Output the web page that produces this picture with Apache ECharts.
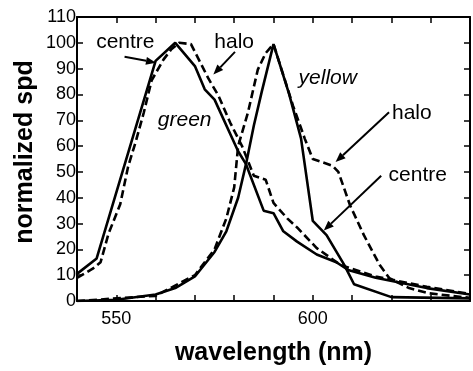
<!DOCTYPE html>
<html><head><meta charset="utf-8">
<script src="https://cdn.jsdelivr.net/npm/echarts@6/dist/echarts.min.js"></script>
<style>html,body{margin:0;padding:0;background:#fff}#c{width:473px;height:371px}</style>
</head><body><div id="c"></div>
<script>
// ---- data ----
const xLabelValues = [550, 600];
const yTicks = [0,10,20,30,40,50,60,70,80,90,100,110];

const greenCentreX = [540,545,560,565,570,572.5,575,581,583,587.5,590,592.5,596,601,606,609,616,629,640];
const greenCentreY = [10.5,16.5,93,100,91,82,78,58,53,35,34,27,23,18,15,12,9,5,2.5];

const greenHaloX = [540,544,546,548,551,553,555,557,559,562,564,566,569,571,573.5,576,579,582,585,588,590,593.5,596,601,607,616,629,640];
const greenHaloY = [9,12.5,15,26,37.5,52,62,73,85.5,93.5,97.5,100,99.5,93.5,86,79.5,69,60,48.5,47,38,32,28.5,20.5,14,9.5,5.5,2.7];

const yellowCentreX = [540,550,560,565,570,575,578,581,583,585,587,590,594,597,600,603.5,608,610.5,620,640];
const yellowCentreY = [0,0.5,2.5,5,9.5,19,27,40,53,68,81,99.5,80,63,31,25.5,14,6.5,1.5,1];

const yellowHaloX = [540,560,570,575,578,580,581,583.5,586,588,590,595,598,600,605,606.5,609.5,613,617,619.5,624.5,629.5,640];
const yellowHaloY = [0,2,10,20,32,44,60,73,89.6,96,99.5,75.5,62.7,55,52.4,50,37,25.5,14,8.8,5,3,1.2];

// annotations: [text, x, y, italic]
const labels = [
  ['centre', 552.3, 100.4, false],
  ['halo', 580, 100.4, false],
  ['green', 567.4, 70, true],
  ['yellow', 603.8, 86.5, true],
  ['halo', 625.2, 72.7, false],
  ['centre', 626.7, 48.8, false]
];
// arrows: [x1,y1,x2(tip),y2(tip)]
const arrows = [
  [552.1, 94.6, 560.1, 92.3],
  [580.2, 96.5, 574.7, 87.7],
  [619.4, 73.1, 605.8, 53.8],
  [617.4, 48.5, 602.8, 27.3]
];

const FONT = '"Liberation Sans", Arial, sans-serif';
const zip = (xs, ys) => xs.map((x, i) => [x, ys[i]]);

const chart = echarts.init(document.getElementById('c'), null, {renderer: 'canvas'});
const lineSeries = (name, xs, ys, dashed) => ({
  name, type: 'line', data: zip(xs, ys), symbol: 'none', smooth: false,
  xAxisIndex: 0, yAxisIndex: 0,
  lineStyle: {color: '#000', width: 2.6, type: dashed ? [8, 4] : 'solid'},
  z: dashed ? 2 : 3
});

const tickStyle = {show: true, inside: true, length: 6, lineStyle: {color: '#000', width: 1.5}};
chart.setOption({
  animation: false,
  backgroundColor: '#fff',
  grid: {left: 77, top: 17, width: 399, height: 286, containLabel: false},
  xAxis: [
    {type: 'value', min: 540, max: 640, interval: 10, position: 'bottom',
     axisLine: {show: true, onZero: false, lineStyle: {color: '#000', width: 2}},
     axisTick: tickStyle, splitLine: {show: false},
     axisLabel: {color: '#000', fontSize: 18, fontFamily: FONT, margin: 9,
       formatter: v => xLabelValues.includes(v) ? String(v) : ''},
     name: 'wavelength (nm)', nameLocation: 'middle', nameGap: 40,
     nameTextStyle: {color: '#000', fontSize: 25, fontWeight: 'bold', fontFamily: FONT}},
    {type: 'value', min: 540, max: 640, interval: 10, position: 'top',
     axisLine: {show: true, onZero: false, lineStyle: {color: '#000', width: 2}},
     axisTick: tickStyle, axisLabel: {show: false}, splitLine: {show: false}}
  ],
  yAxis: [
    {type: 'value', min: 0, max: 110, interval: 10, position: 'left',
     axisLine: {show: true, onZero: false, lineStyle: {color: '#000', width: 2}},
     axisTick: tickStyle, splitLine: {show: false},
     axisLabel: {color: '#000', fontSize: 18, fontFamily: FONT, margin: 1,
       formatter: v => yTicks.includes(v) ? String(v) : ''}},
    {type: 'value', min: 0, max: 110, interval: 10, position: 'right',
     axisLine: {show: true, onZero: false, lineStyle: {color: '#000', width: 2}},
     axisTick: tickStyle, axisLabel: {show: false}, splitLine: {show: false}}
  ],
  series: [
    lineSeries('green halo', greenHaloX, greenHaloY, true),
    lineSeries('green centre', greenCentreX, greenCentreY, false),
    lineSeries('yellow halo', yellowHaloX, yellowHaloY, true),
    lineSeries('yellow centre', yellowCentreX, yellowCentreY, false)
  ]
});

const px = (x, y) => chart.convertToPixel({xAxisIndex: 0, yAxisIndex: 0}, [x, y]);
const graphics = [];
labels.forEach(([t, x, y, it]) => {
  const p = px(x, y);
  graphics.push({type: 'text', x: p[0], y: p[1], z: 10,
    style: {text: t, fill: '#000', font: (it ? 'italic ' : '') + '21px ' + FONT,
      textAlign: 'center', textVerticalAlign: 'middle'}});
});
arrows.forEach(([x1, y1, x2, y2]) => {
  const a = px(x1, y1), b = px(x2, y2);
  const dx = b[0] - a[0], dy = b[1] - a[1], L = Math.hypot(dx, dy);
  const ux = dx / L, uy = dy / L, hl = 10, hw = 4;
  const bx = b[0] - ux * hl, by = b[1] - uy * hl;
  graphics.push({type: 'line', z: 10, shape: {x1: a[0], y1: a[1], x2: bx, y2: by},
    style: {stroke: '#000', lineWidth: 2}});
  graphics.push({type: 'polygon', z: 10, shape: {points: [b, [bx - uy * hw, by + ux * hw], [bx + uy * hw, by - ux * hw]]},
    style: {fill: '#000'}});
});
// y axis title
graphics.push({type: 'text', x: 25, y: 152, rotation: Math.PI / 2, z: 10,
  style: {text: 'normalized spd', fill: '#000', font: 'bold 25px ' + FONT,
    textAlign: 'center', textVerticalAlign: 'middle'}});
chart.setOption({graphic: graphics});
</script></body></html>
